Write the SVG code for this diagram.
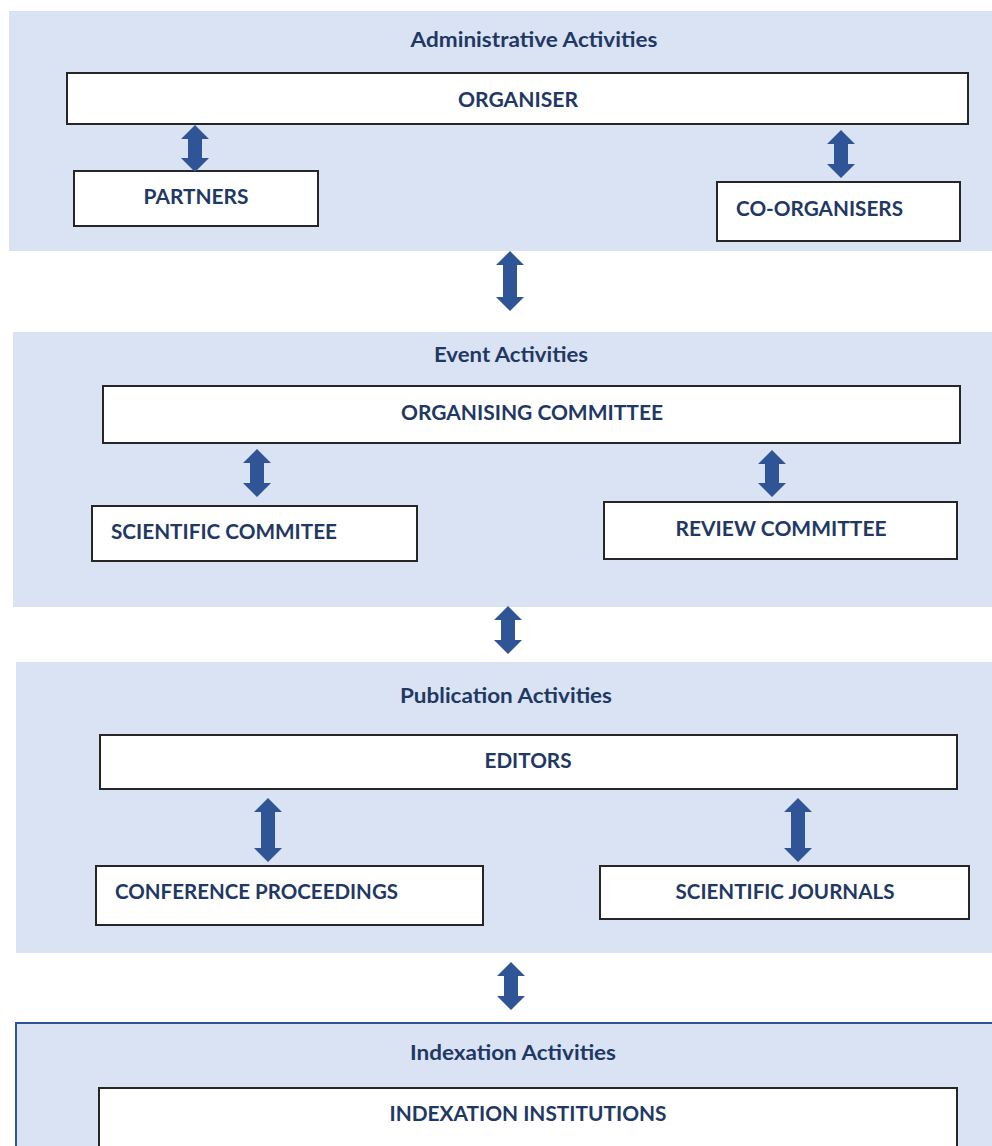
<svg xmlns="http://www.w3.org/2000/svg" width="992" height="1146" viewBox="0 0 992 1146">
<style>
.panel{fill:#dae3f3}
.box{fill:#fff;stroke:#262626;stroke-width:2}
.t{font-family:Lato,"Open Sans","Liberation Sans",sans-serif;font-weight:bold;font-size:20px;fill:#1f3864}
.arr{fill:#2f5597}
</style>
<g id="panel-admin">
<rect class="panel" x="9" y="11" width="990" height="240"/>
<text class="t" x="534" y="47" text-anchor="middle" textLength="247" lengthAdjust="spacingAndGlyphs">Administrative Activities</text>
</g>
<g id="panel-event">
<rect class="panel" x="13" y="332" width="986" height="275"/>
<text class="t" x="511" y="362" text-anchor="middle" textLength="154" lengthAdjust="spacingAndGlyphs">Event Activities</text>
</g>
<g id="panel-publication">
<rect class="panel" x="16" y="662" width="983" height="291"/>
<text class="t" x="506" y="703" text-anchor="middle" textLength="212" lengthAdjust="spacingAndGlyphs">Publication Activities</text>
</g>
<g id="panel-indexation">
<rect class="panel" x="16" y="1023" width="990" height="140" stroke="#2f5597" stroke-width="2"/>
<text class="t" x="513" y="1060" text-anchor="middle" textLength="206" lengthAdjust="spacingAndGlyphs">Indexation Activities</text>
</g>
<g id="organiser">
<rect class="box" x="67" y="73" width="901" height="51"/>
<text class="t" x="518" y="107" text-anchor="middle" textLength="120" lengthAdjust="spacingAndGlyphs">ORGANISER</text>
</g>
<g id="partners">
<rect class="box" x="74" y="171" width="244" height="55"/>
<text class="t" x="196" y="204" text-anchor="middle" textLength="105" lengthAdjust="spacingAndGlyphs">PARTNERS</text>
</g>
<g id="co-organisers">
<rect class="box" x="717" y="182" width="243" height="59"/>
<text class="t" x="736" y="216" textLength="167" lengthAdjust="spacingAndGlyphs">CO-ORGANISERS</text>
</g>
<g id="organising-committee">
<rect class="box" x="103" y="386" width="857" height="57"/>
<text class="t" x="532" y="420" text-anchor="middle" textLength="262" lengthAdjust="spacingAndGlyphs">ORGANISING COMMITTEE</text>
</g>
<g id="scientific-commitee">
<rect class="box" x="92" y="506" width="325" height="55"/>
<text class="t" x="111" y="539" textLength="226" lengthAdjust="spacingAndGlyphs">SCIENTIFIC COMMITEE</text>
</g>
<g id="review-committee">
<rect class="box" x="604" y="502" width="353" height="57"/>
<text class="t" x="781" y="536" text-anchor="middle" textLength="211" lengthAdjust="spacingAndGlyphs">REVIEW COMMITTEE</text>
</g>
<g id="editors">
<rect class="box" x="100" y="735" width="857" height="54"/>
<text class="t" x="528" y="768" text-anchor="middle" textLength="87" lengthAdjust="spacingAndGlyphs">EDITORS</text>
</g>
<g id="conference-proceedings">
<rect class="box" x="96" y="866" width="387" height="59"/>
<text class="t" x="115" y="899" textLength="283" lengthAdjust="spacingAndGlyphs">CONFERENCE PROCEEDINGS</text>
</g>
<g id="scientific-journals">
<rect class="box" x="600" y="866" width="369" height="53"/>
<text class="t" x="785" y="899" text-anchor="middle" textLength="219" lengthAdjust="spacingAndGlyphs">SCIENTIFIC JOURNALS</text>
</g>
<g id="indexation-institutions">
<rect class="box" x="99" y="1088" width="858" height="70"/>
<text class="t" x="528" y="1121" text-anchor="middle" textLength="277" lengthAdjust="spacingAndGlyphs">INDEXATION INSTITUTIONS</text>
</g>
<g id="connectors">
<path class="arr" d="M195 125 L209 139 L202 139 L202 158 L209 158 L195 172 L181 158 L188 158 L188 139 L181 139 Z"/>
<path class="arr" d="M841 130 L855 144 L848 144 L848 164 L855 164 L841 178 L827 164 L834 164 L834 144 L827 144 Z"/>
<path class="arr" d="M510 251 L524 265 L517 265 L517 297 L524 297 L510 311 L496 297 L503 297 L503 265 L496 265 Z"/>
<path class="arr" d="M257 449 L271 463 L264 463 L264 483 L271 483 L257 497 L243 483 L250 483 L250 463 L243 463 Z"/>
<path class="arr" d="M772 450 L786 464 L779 464 L779 483 L786 483 L772 497 L758 483 L765 483 L765 464 L758 464 Z"/>
<path class="arr" d="M508 606 L522 620 L515 620 L515 640 L522 640 L508 654 L494 640 L501 640 L501 620 L494 620 Z"/>
<path class="arr" d="M268 798 L282 812 L275 812 L275 848 L282 848 L268 862 L254 848 L261 848 L261 812 L254 812 Z"/>
<path class="arr" d="M798 798 L812 812 L805 812 L805 848 L812 848 L798 862 L784 848 L791 848 L791 812 L784 812 Z"/>
<path class="arr" d="M511 962 L525 976 L518 976 L518 996 L525 996 L511 1010 L497 996 L504 996 L504 976 L497 976 Z"/>
</g>
</svg>
